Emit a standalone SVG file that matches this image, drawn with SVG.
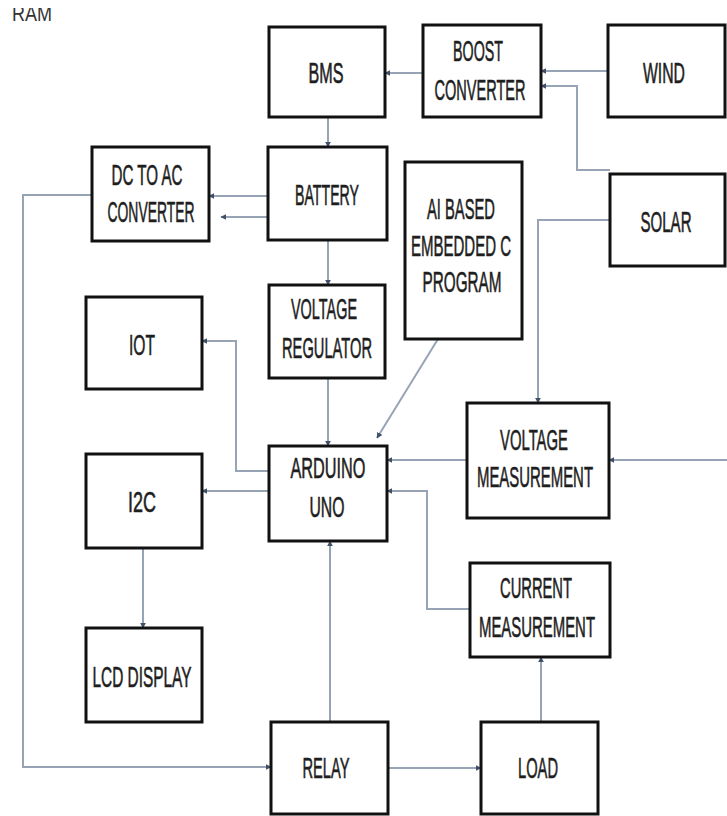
<svg xmlns="http://www.w3.org/2000/svg" width="727" height="816" viewBox="0 0 727 816">
<style>
.box{fill:#fff;stroke:#111;stroke-width:3}
.t{font-family:"Liberation Sans",Arial,sans-serif;font-size:29px;fill:#1e1e1e;stroke:#1e1e1e;stroke-width:0.6;text-anchor:middle}
.c{fill:none;stroke:#97a4b6;stroke-width:2}
</style>
<defs>
<marker id="ah" viewBox="0 0 10 10" refX="9" refY="5" markerWidth="6" markerHeight="6" orient="auto" markerUnits="userSpaceOnUse">
<path d="M0,0 L10,5 L0,10 z" fill="#3f5068"/>
</marker>
<clipPath id="topclip"><rect x="0" y="8" width="80" height="20"/></clipPath>
</defs>
<rect width="727" height="816" fill="#fff"/>
<text x="12" y="21" clip-path="url(#topclip)" font-family="Liberation Sans,Arial,sans-serif" font-size="22" fill="#333" textLength="40" lengthAdjust="spacingAndGlyphs">RAM</text>

<g id="connectors">
<path class="c" d="M608,71 H541" marker-end="url(#ah)"/>
<path class="c" d="M610,170 H577 V86 H541" marker-end="url(#ah)"/>
<path class="c" d="M423,73 H385" marker-end="url(#ah)"/>
<path class="c" d="M328,117 V147" marker-end="url(#ah)"/>
<path class="c" d="M268,196 H209" marker-end="url(#ah)"/>
<path class="c" d="M279,217 H221" marker-end="url(#ah)"/>
<path class="c" d="M92,195 H23 V767 H271" marker-end="url(#ah)"/>
<path class="c" d="M328,240 V285" marker-end="url(#ah)"/>
<path class="c" d="M328,378 V446" marker-end="url(#ah)"/>
<path class="c" d="M438,339 L377,438" marker-end="url(#ah)"/>
<path class="c" d="M610,220 H538 V403" marker-end="url(#ah)"/>
<path class="c" d="M727,460 H609" marker-end="url(#ah)"/>
<path class="c" d="M467,460 H387" marker-end="url(#ah)"/>
<path class="c" d="M470,609 H427 V491 H387" marker-end="url(#ah)"/>
<path class="c" d="M269,471 H236 V341 H202" marker-end="url(#ah)"/>
<path class="c" d="M269,491 H202" marker-end="url(#ah)"/>
<path class="c" d="M143,548 V628" marker-end="url(#ah)"/>
<path class="c" d="M330,722 V541" marker-end="url(#ah)"/>
<path class="c" d="M388,768 H481" marker-end="url(#ah)"/>
<path class="c" d="M541,722 V657" marker-end="url(#ah)"/>
</g>

<g id="bms"><rect class="box" x="269" y="27" width="116" height="90"/><text class="t" x="326" y="83" textLength="35" lengthAdjust="spacingAndGlyphs">BMS</text></g>
<g id="boost"><rect class="box" x="423" y="25" width="118" height="92"/><text class="t" x="478" y="61" textLength="50" lengthAdjust="spacingAndGlyphs">BOOST</text><text class="t" x="480" y="100" textLength="91" lengthAdjust="spacingAndGlyphs">CONVERTER</text></g>
<g id="wind"><rect class="box" x="608" y="25" width="117" height="92"/><text class="t" x="664" y="83" textLength="42" lengthAdjust="spacingAndGlyphs">WIND</text></g>
<g id="solar"><rect class="box" x="610" y="174" width="115" height="92"/><text class="t" x="666" y="232" textLength="51" lengthAdjust="spacingAndGlyphs">SOLAR</text></g>
<g id="dcac"><rect class="box" x="92" y="147" width="117" height="94"/><text class="t" x="147" y="185" textLength="71" lengthAdjust="spacingAndGlyphs">DC TO AC</text><text class="t" x="151" y="222" textLength="87" lengthAdjust="spacingAndGlyphs">CONVERTER</text></g>
<g id="battery"><rect class="box" x="268" y="147" width="119" height="93"/><text class="t" x="327" y="205" textLength="64" lengthAdjust="spacingAndGlyphs">BATTERY</text></g>
<g id="ai"><rect class="box" x="405" y="162" width="117" height="177"/><text class="t" x="461" y="219" textLength="68" lengthAdjust="spacingAndGlyphs">AI BASED</text><text class="t" x="461" y="256" textLength="100" lengthAdjust="spacingAndGlyphs">EMBEDDED C</text><text class="t" x="462" y="292" textLength="79" lengthAdjust="spacingAndGlyphs">PROGRAM</text></g>
<g id="vreg"><rect class="box" x="269" y="285" width="116" height="93"/><text class="t" x="324" y="319" textLength="66" lengthAdjust="spacingAndGlyphs">VOLTAGE</text><text class="t" x="327" y="358" textLength="90" lengthAdjust="spacingAndGlyphs">REGULATOR</text></g>
<g id="iot"><rect class="box" x="86" y="297" width="116" height="92"/><text class="t" x="142" y="355" textLength="26" lengthAdjust="spacingAndGlyphs">IOT</text></g>
<g id="i2c"><rect class="box" x="86" y="454" width="116" height="94"/><text class="t" x="142" y="512" textLength="28" lengthAdjust="spacingAndGlyphs">I2C</text></g>
<g id="lcd"><rect class="box" x="86" y="628" width="116" height="94"/><text class="t" x="142" y="687" textLength="99" lengthAdjust="spacingAndGlyphs">LCD DISPLAY</text></g>
<g id="arduino"><rect class="box" x="269" y="446" width="118" height="95"/><text class="t" x="328" y="478" textLength="75" lengthAdjust="spacingAndGlyphs">ARDUINO</text><text class="t" x="327" y="517" textLength="35" lengthAdjust="spacingAndGlyphs">UNO</text></g>
<g id="vmeas"><rect class="box" x="467" y="403" width="142" height="115"/><text class="t" x="534" y="450" textLength="68" lengthAdjust="spacingAndGlyphs">VOLTAGE</text><text class="t" x="535" y="487" textLength="116" lengthAdjust="spacingAndGlyphs">MEASUREMENT</text></g>
<g id="cmeas"><rect class="box" x="470" y="563" width="140" height="94"/><text class="t" x="536" y="598" textLength="72" lengthAdjust="spacingAndGlyphs">CURRENT</text><text class="t" x="537" y="637" textLength="116" lengthAdjust="spacingAndGlyphs">MEASUREMENT</text></g>
<g id="relay"><rect class="box" x="271" y="722" width="117" height="92"/><text class="t" x="326" y="778" textLength="47" lengthAdjust="spacingAndGlyphs">RELAY</text></g>
<g id="load"><rect class="box" x="481" y="722" width="117" height="92"/><text class="t" x="538" y="778" textLength="40" lengthAdjust="spacingAndGlyphs">LOAD</text></g>
</svg>
